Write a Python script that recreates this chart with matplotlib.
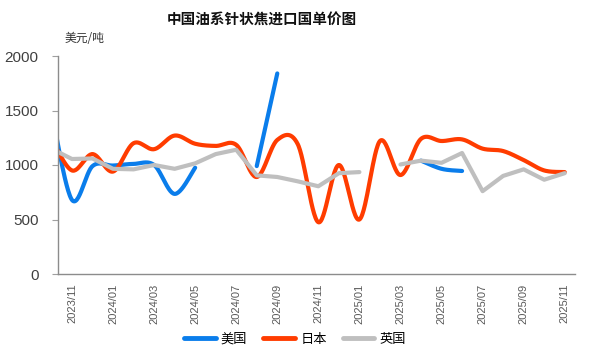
import numpy as np
import matplotlib
matplotlib.use("Agg")
import matplotlib.pyplot as plt
from matplotlib.lines import Line2D

plt.rcParams['font.family'] = ['Liberation Sans', 'Noto Sans CJK SC', 'DejaVu Sans']

nan = np.nan
months = ['2023/10', '2023/11', '2023/12', '2024/01', '2024/02', '2024/03', '2024/04',
          '2024/05', '2024/06', '2024/07', '2024/08', '2024/09', '2024/10', '2024/11',
          '2024/12', '2025/01', '2025/02', '2025/03', '2025/04', '2025/05', '2025/06',
          '2025/07', '2025/08', '2025/09', '2025/10', '2025/11']

usa = [1500, 680, 990, 995, 1010, 1000, 735, 975, nan, nan, 990, 1840, nan, nan,
       nan, nan, nan, nan, 1040, 965, 945, nan, nan, nan, nan, nan]
japan = [1240, 950, 1100, 940, 1200, 1145, 1270, 1195, 1175, 1185, 890, 1230, 1190, 475,
         1000, 500, 1220, 908, 1240, 1220, 1235, 1150, 1128, 1045, 950, 935]
uk = [1150, 1055, 1060, 965, 960, 1000, 965, 1015, 1100, 1140, 905, 890, 850, 805,
      925, 935, nan, 1005, 1040, 1020, 1110, 760, 900, 960, 865, 925]

series_names = ['美国', '日本', '英国']
colors = ['#0A7DEB', '#FF3C00', '#BFBFBF']
smoothed = [True, True, False]


def smooth_curve(x, y, n=30):
    x = np.asarray(x, float)
    y = np.asarray(y, float)
    ok = np.isfinite(y)
    xs_all, ys_all = [], []
    i = 0
    N = len(y)
    while i < N:
        if not ok[i]:
            i += 1
            continue
        j = i
        while j < N and ok[j]:
            j += 1
        px, py = x[i:j], y[i:j]
        m = len(px)
        if m <= 2:
            xs_all.extend(list(px)); ys_all.extend(list(py))
        else:
            P = np.column_stack([px, py])
            for k in range(m - 1):
                p0 = P[k - 1] if k > 0 else P[k]
                p1 = P[k]
                p2 = P[k + 1]
                p3 = P[k + 2] if k + 2 < m else P[k + 1]
                c1 = p1 + (p2 - p0) / 6.0
                c2 = p2 - (p3 - p1) / 6.0
                t = np.linspace(0, 1, n)[:, None]
                B = ((1 - t) ** 3) * p1 + 3 * ((1 - t) ** 2) * t * c1 + 3 * (1 - t) * t ** 2 * c2 + t ** 3 * p2
                if k > 0:
                    B = B[1:]
                xs_all.extend(list(B[:, 0])); ys_all.extend(list(B[:, 1]))
        xs_all.append(nan); ys_all.append(nan)
        i = j
    return np.array(xs_all), np.array(ys_all)


fig = plt.figure(figsize=(6.0, 3.52), dpi=100)
ax = fig.add_axes([58 / 600, 1 - 274 / 352, (575 - 58) / 600, (274 - 56) / 352])

xpos = np.arange(len(months)) - 1  # 2023/11 -> 0

handles = []
for name, vals, col, sm in zip(series_names, [usa, japan, uk], colors, smoothed):
    if sm:
        sx, sy = smooth_curve(xpos, vals)
    else:
        sx, sy = xpos, np.asarray(vals, float)
    ax.plot(sx, sy, color=col, lw=3.0, solid_capstyle='round', solid_joinstyle='round')
    handles.append(Line2D([0], [0], color=col, lw=3.5, solid_capstyle='round'))

ax.set_xlim(-0.68, 24.5)
ax.set_ylim(0, 2000)
ax.set_yticks([0, 500, 1000, 1500, 2000])
ax.set_yticklabels(['0', '500', '1000', '1500', '2000'], fontsize=11, color='#404040')
tick_idx = list(range(0, 25, 2))
ax.set_xticks(tick_idx)
ax.set_xticklabels([months[i + 1] for i in tick_idx], rotation=90, fontsize=8, color='#595959')
ax.tick_params(axis='x', length=0, pad=7)
ax.tick_params(axis='y', length=4, width=0.8, color='#A0A0A0', pad=10)

for s in ['top', 'right']:
    ax.spines[s].set_visible(False)
for s in ['left', 'bottom']:
    ax.spines[s].set_color('#8C8C8C')
    ax.spines[s].set_linewidth(1.0)

fig.text(262 / 600, 1 - 20 / 352, '中国油系针状焦进口国单价图', ha='center', va='center',
         fontsize=10.5, fontweight='bold', family=['Noto Sans CJK SC', 'DejaVu Sans'], color='#111111')
fig.text(84 / 600, 1 - 39 / 352, '美元/吨', ha='center', va='center',
         fontsize=8.5, family=['Noto Sans CJK SC', 'DejaVu Sans'], color='#333333')

leg = fig.legend(handles, series_names, loc='center', bbox_to_anchor=(295 / 600, 1 - 339 / 352),
                 ncol=3, frameon=False, handlelength=2.4, handletextpad=0.4,
                 columnspacing=1.2, prop={'family': ['Noto Sans CJK SC', 'DejaVu Sans'], 'size': 9.5})

fig.savefig('out.png', dpi=100)
